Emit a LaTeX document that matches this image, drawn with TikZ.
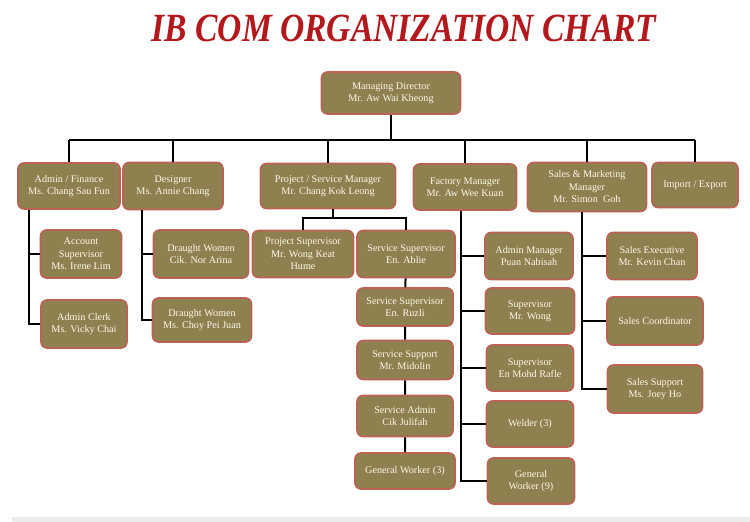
\documentclass[tikz,border=0pt]{standalone}
\usepackage{fontspec}
\setmainfont{Liberation Serif}
\usepackage{xcolor}
\definecolor{boxfill}{RGB}{143,128,80}
\definecolor{boxedge}{RGB}{188,98,84}
\definecolor{boxtext}{RGB}{252,248,232}
\definecolor{titlered}{RGB}{178,24,28}
\definecolor{stripgray}{RGB}{236,236,236}
\usetikzlibrary{positioning,calc}

\begin{document}
\begin{tikzpicture}[x=1pt,y=-1pt,
  orgbox/.style={draw=boxedge,fill=boxfill,line width=1.6pt,rounded corners=6pt,
        text=boxtext,align=center,inner sep=0pt,
        font=\fontsize{10.2}{12.5}\selectfont},
  link/.style={line width=2pt,black}]
  \useasboundingbox (0,0) rectangle (750,522);
  \fill[stripgray] (12,517) rectangle (750,522);
  %% Title
  \node[font=\fontsize{40}{40}\selectfont\bfseries\itshape,text=titlered,
        xscale=0.84,transform shape] (title) at (404,28) {IB COM ORGANIZATION CHART};
  %% Managing director
  \node[orgbox,minimum width=139pt,minimum height=42pt] (md) at (391,93)
        {Managing Director\\Mr. Aw Wai Kheong};
  %% Department heads
  \node[orgbox,minimum width=102pt,minimum height=46pt] (af) at (69,186)
        {Admin / Finance\\Ms. Chang Sau Fun};
  \node[orgbox,minimum width=100pt,minimum height=47pt] (des) at (173,186)
        {Designer\\Ms. Annie Chang};
  \node[orgbox,minimum width=135pt,minimum height=45pt] (psm) at (328,186)
        {Project / Service Manager\\Mr. Chang Kok Leong};
  \node[orgbox,minimum width=103pt,minimum height=46pt] (fm) at (465,187)
        {Factory Manager\\Mr. Aw Wee Kuan};
  \node[orgbox,minimum width=119pt,minimum height=49pt] (sm) at (587,187)
        {Sales \& Marketing\\Manager\\Mr. Simon~ Goh};
  \node[orgbox,minimum width=86pt,minimum height=45pt] (imp) at (695,185)
        {Import / Export};
  %% Admin / Finance staff
  \node[orgbox,minimum width=81pt,minimum height=48pt] (acc) at (81,254)
        {Account\\Supervisor\\Ms. Irene Lim};
  \node[orgbox,minimum width=86pt,minimum height=48pt] (clerk) at (84,324)
        {Admin Clerk\\Ms. Vicky Chai};
  %% Designer staff
  \node[orgbox,minimum width=95pt,minimum height=48pt] (dw1) at (201,254)
        {Draught Women\\Cik. Nor Arina};
  \node[orgbox,minimum width=99pt,minimum height=44pt] (dw2) at (202,320)
        {Draught Women\\Ms. Choy Pei Juan};
  %% Project / Service staff
  \node[orgbox,minimum width=101pt,minimum height=47pt] (ps) at (303,254)
        {Project Supervisor\\Mr. Wong Keat\\Hume};
  \node[orgbox,minimum width=98pt,minimum height=47pt] (ss1) at (406,254)
        {Service Supervisor\\En. Ablie};
  \node[orgbox,minimum width=96pt,minimum height=38pt] (ss2) at (405,307)
        {Service Supervisor\\En. Ruzli};
  \node[orgbox,minimum width=96pt,minimum height=39pt] (sup) at (405,360)
        {Service Support\\Mr. Midolin};
  \node[orgbox,minimum width=96pt,minimum height=41pt] (sadm) at (405,416)
        {Service Admin\\Cik Julifah};
  \node[orgbox,minimum width=100pt,minimum height=36pt] (gw3) at (405,471)
        {General Worker (3)};
  %% Factory staff
  \node[orgbox,minimum width=88pt,minimum height=47pt] (am) at (529,256)
        {Admin Manager\\Puan Nabisah};
  \node[orgbox,minimum width=89pt,minimum height=46pt] (sw) at (530,311)
        {Supervisor\\Mr. Wong};
  \node[orgbox,minimum width=87pt,minimum height=46pt] (sr) at (530,368)
        {Supervisor\\En Mohd Rafle};
  \node[orgbox,minimum width=87pt,minimum height=46pt] (weld) at (530,424)
        {Welder (3)};
  \node[orgbox,minimum width=87pt,minimum height=46pt] (gw9) at (531,481)
        {General\\Worker (9)};
  %% Sales staff
  \node[orgbox,minimum width=90pt,minimum height=47pt] (se) at (652,256)
        {Sales Executive\\Mr. Kevin Chan};
  \node[orgbox,minimum width=96pt,minimum height=48pt] (sc) at (655,321)
        {Sales Coordinator};
  \node[orgbox,minimum width=95pt,minimum height=48pt] (ssp) at (655,389)
        {Sales Support\\Ms. Joey Ho};
  %% Connectors
  \coordinate (bus) at (391,140);
  \coordinate (afline) at (29,0);
  \coordinate (desline) at (142,0);
  \coordinate (fork) at (333,218);
  \coordinate (fmline) at (461,0);
  \coordinate (smline) at (582,0);
  \draw[link] (md.south) -- (bus);
  \draw[link] (bus -| af) -- (bus -| imp);
  \foreach \n in {af,des,psm,fm,sm,imp}
    \draw[link] (bus -| \n) -- (\n.north);
  \foreach \n in {acc,clerk}
    \draw[link] (af.south -| afline) |- (\n.west);
  \foreach \n in {dw1,dw2}
    \draw[link] (des.south -| desline) |- (\n.west);
  \draw[link] (psm.south -| fork) -- (fork);
  \draw[link] (ps.north) |- (fork) -| (ss1.north);
  \draw[link] (ss1) -- (ss2) -- (sup) -- (sadm) -- (gw3);
  \foreach \n in {am,sw,sr,weld,gw9}
    \draw[link] (fm.south -| fmline) |- (\n.west);
  \foreach \n in {se,sc,ssp}
    \draw[link] (sm.south -| smline) |- (\n.west);
\end{tikzpicture}
\end{document}
